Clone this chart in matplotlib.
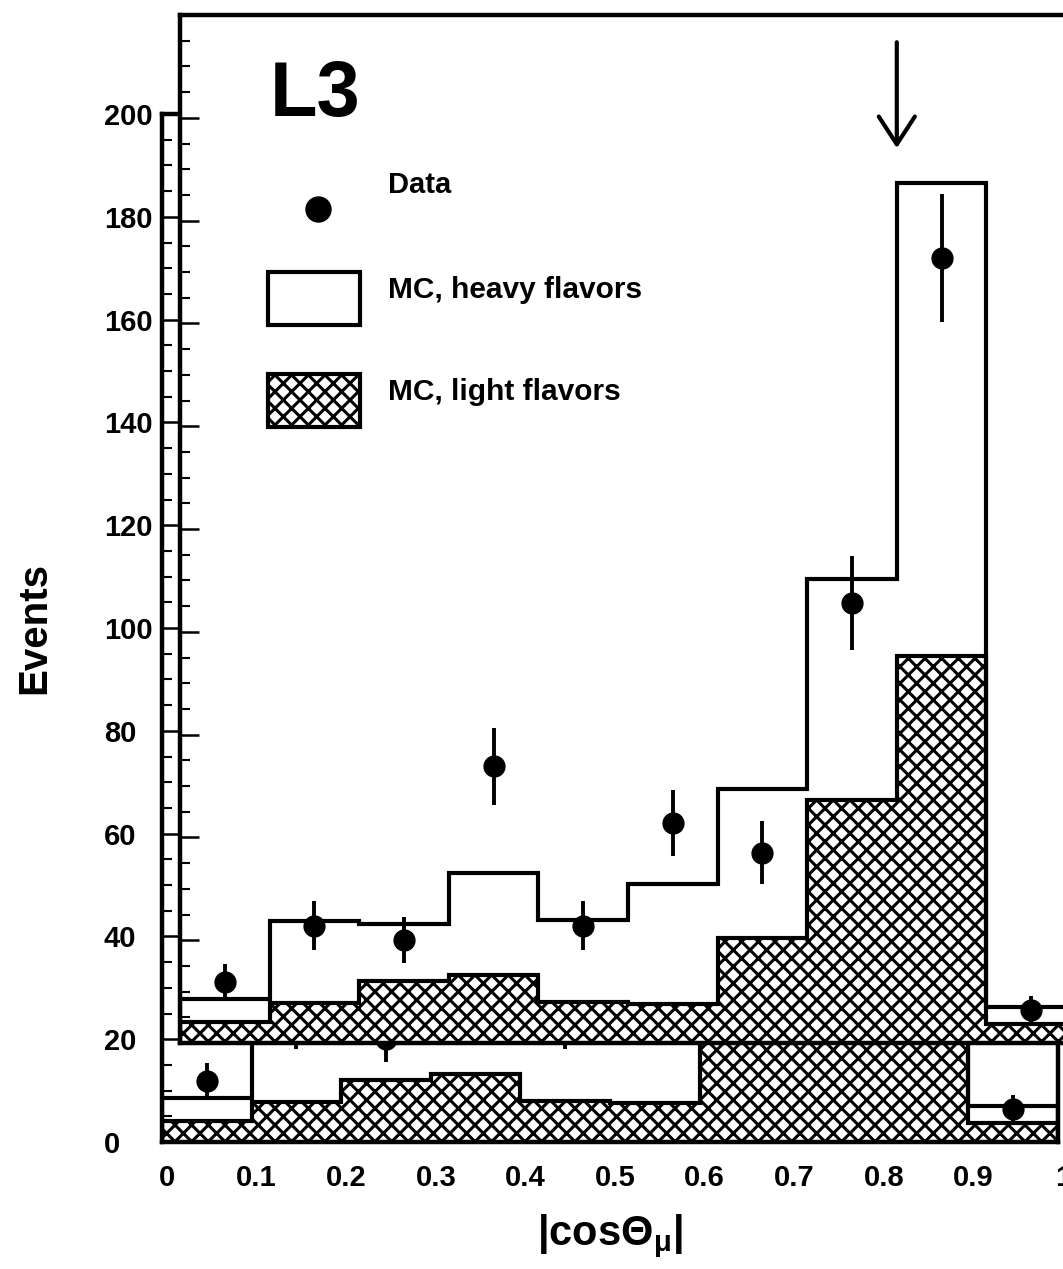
"""L3 |cos theta_mu| distribution, reproduced from a doubled-up scan"""

import matplotlib.pyplot as plt
from matplotlib.ticker import MultipleLocator, FixedLocator, FixedFormatter
from matplotlib.patches import Rectangle
from matplotlib.transforms import ScaledTranslation

plt.rcParams['font.family'] = ['Liberation Sans', 'DejaVu Sans']
plt.rcParams['font.weight'] = 'bold'
plt.rcParams['hatch.linewidth'] = 2.2
plt.rcParams['mathtext.fontset'] = 'custom'
plt.rcParams['mathtext.rm'] = 'Liberation Sans:bold'
plt.rcParams['mathtext.bf'] = 'Liberation Sans:bold'
plt.rcParams['mathtext.it'] = 'Liberation Sans:bold'

# histogram binning in |cos theta_mu|
bin_edges = [0.0, 0.1, 0.2, 0.3, 0.4, 0.5, 0.6, 0.7, 0.8, 0.9, 1.0]
bin_centers = [0.05, 0.15, 0.25, 0.35, 0.45, 0.55, 0.65, 0.75, 0.85, 0.95]

# MC total (heavy + light) and the light flavour part
mc_total = [8.5, 23.7, 23.1, 33.1, 24.0, 31.0, 49.4, 90.3, 167.3, 7.1]
mc_light = [4.1, 7.8, 12.0, 13.2, 7.9, 7.6, 20.5, 47.2, 75.3, 3.7]

# data points with errors
data_y = [11.9, 22.8, 20.0, 53.8, 22.8, 42.8, 37.0, 85.6, 152.7, 6.5]
data_err = [3.4, 4.8, 4.5, 7.4, 4.8, 6.5, 6.1, 9.2, 12.4, 2.6]

# cut position marked by the arrow
CUT = 0.8
ARROW_FROM = 194.7
ARROW_TO = 174.1

x_ticks = [0, 0.1, 0.2, 0.3, 0.4, 0.5, 0.6, 0.7, 0.8, 0.9, 1.0]
x_tick_labels = ['0', '0.1', '0.2', '0.3', '0.4', '0.5', '0.6', '0.7', '0.8', '0.9', '1']
y_ticks = [0, 20, 40, 60, 80, 100, 120, 140, 160, 180, 200]
y_tick_labels = ['0', '20', '40', '60', '80', '100', '120', '140', '160', '180', '200']

W, H = 1063, 1269


def frac(left, top, width, height):
    # pixel box -> figure fraction
    return [left / W, 1 - (top + height) / H, width / W, height / H]


def draw_panel(ax):
    ax.stairs(mc_light, bin_edges, fill=True, facecolor='white', edgecolor='black',
              hatch='xx', lw=3, zorder=2)
    ax.stairs(mc_total, bin_edges, color='black', lw=3, baseline=0, zorder=3)
    ax.errorbar(bin_centers, data_y, yerr=data_err, fmt='o', color='black', ms=15,
                elinewidth=2.8, capsize=0, zorder=4)
    ax.set_xlim(0, 1)
    ax.set_ylim(0, 200)
    for s in ax.spines.values():
        s.set_linewidth(3.2)
    ax.yaxis.set_major_locator(FixedLocator(y_ticks))
    ax.yaxis.set_minor_locator(MultipleLocator(5))
    ax.xaxis.set_major_locator(FixedLocator(x_ticks))
    ax.tick_params(axis='y', which='major', direction='in', length=14, width=1.8)
    ax.tick_params(axis='y', which='minor', direction='in', length=7, width=1.5)
    ax.tick_params(axis='x', which='both', length=0)


fig = plt.figure(figsize=(10.63, 12.69), dpi=100)

# the scan shows two copies of the same plot; the lower one carries the labels
back = fig.add_axes(frac(162, 114, 896, 1028))
front = fig.add_axes(frac(180, 15, 896, 1028))
front.set_facecolor('white')

draw_panel(back)
draw_panel(front)

back.yaxis.set_major_formatter(FixedFormatter(y_tick_labels))
back.xaxis.set_major_formatter(FixedFormatter(x_tick_labels))
back.tick_params(axis='y', which='major', labelsize=21, pad=42)
back.tick_params(axis='x', labelsize=21, pad=16)
for lab in back.get_yticklabels():
    lab.set_horizontalalignment('left')
shift = ScaledTranslation(5 / 100, 0, fig.dpi_scale_trans)
for lab in back.get_xticklabels():
    lab.set_transform(lab.get_transform() + shift)
back.set_ylabel('Events', fontsize=29, fontweight='bold')
back.yaxis.set_label_coords(-0.121, 0.5)
back.set_xlabel(r'|cos$\Theta_{\mu}$|', fontsize=30, fontweight='bold')
back.xaxis.set_label_coords(0.5, -0.068)
back.xaxis.label.set_verticalalignment('top')

front.tick_params(labelleft=False, labelbottom=False)

# legend, drawn by hand like the original
front.text(0.1, 0.922, 'L3', fontsize=56, fontweight='bold', va='center', ha='left',
           transform=front.transAxes)
front.plot([0.154], [0.811], 'o', color='black', ms=18, transform=front.transAxes,
           clip_on=False)
front.text(0.232, 0.835, 'Data', fontsize=21, va='center', transform=front.transAxes)
front.add_patch(Rectangle((0.0982, 0.698), 0.1027, 0.0516, facecolor='white',
                          edgecolor='black', lw=3, transform=front.transAxes))
front.text(0.232, 0.7325, 'MC, heavy flavors', fontsize=21.5, va='center',
           transform=front.transAxes)
front.add_patch(Rectangle((0.0982, 0.599), 0.1027, 0.0516, facecolor='white',
                          edgecolor='black', hatch='xx', lw=3, transform=front.transAxes))
front.text(0.232, 0.633, 'MC, light flavors', fontsize=21.5, va='center',
           transform=front.transAxes)

front.annotate('', xy=(CUT, ARROW_TO), xytext=(CUT, ARROW_FROM),
               arrowprops=dict(arrowstyle='->, head_length=1.0, head_width=0.65',
                               lw=3, color='black', shrinkA=0, shrinkB=0,
                               mutation_scale=20))

fig.savefig('out.png', dpi=100)
